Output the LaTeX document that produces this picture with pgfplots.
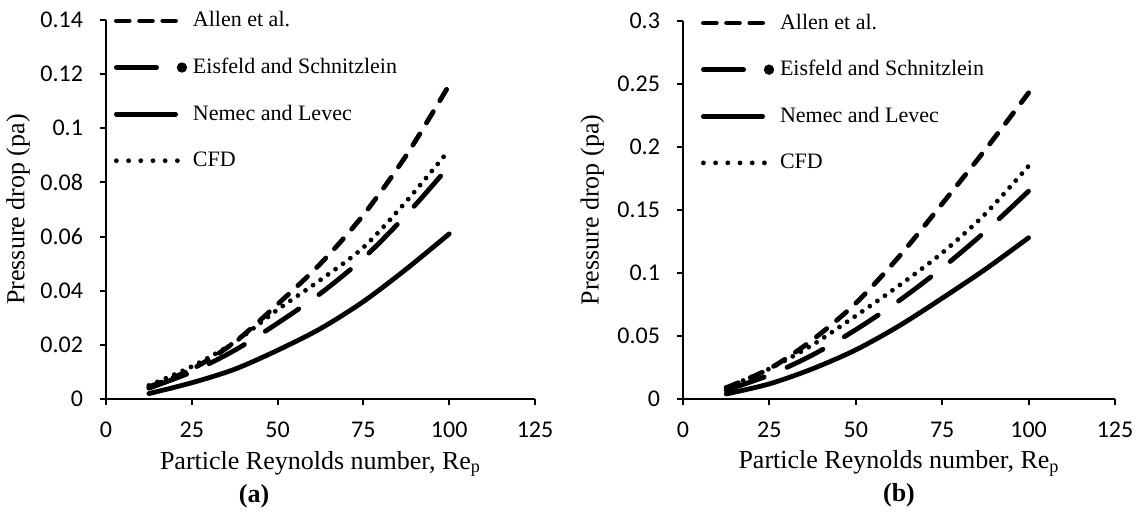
\documentclass[border=0pt]{standalone}
\usepackage{fontspec}
\setmainfont{Liberation Serif}
\newfontfamily\calibri{Carlito}
\usepackage{pgfplots}
\pgfplotsset{compat=1.18}

% line styles of the four correlations
\pgfplotsset{
  allen/.style={line width=2.4pt, line cap=round, dash pattern=on 6.6pt off 6.4pt, smooth,
    legend image code/.code={\draw[line width=2.4pt, line cap=round, dash pattern=on 6.4pt off 5.2pt] (1.2pt,0pt) -- (30.8pt,0pt);}},
  eisfeld/.style={line width=2.4pt, line cap=round, dash pattern=on 20.1pt off 12.4pt, smooth,
    legend image code/.code={\draw[line width=2.4pt, line cap=round] (1.2pt,0pt) -- (21.8pt,0pt); \fill (34pt,0pt) circle (1.3pt);}},
  nemec/.style={line width=2.4pt, line cap=round, smooth,
    legend image code/.code={\draw[line width=2.4pt, line cap=round] (1.2pt,0pt) -- (30.8pt,0pt);}},
  cfd/.style={line width=2.4pt, line cap=round, dash pattern=on 0pt off 4.6pt, smooth,
    legend image code/.code={\draw[line width=2.4pt, line cap=round, dash pattern=on 0pt off 6.1pt] (1.2pt,0pt) -- (31.8pt,0pt);}},
  panel/.style={
    scale only axis, anchor=south west, clip=false,
    xmin=0, xmax=125, ymin=0,
    axis x line*=bottom, axis y line*=left,
    axis line style={line width=1.3pt, black},
    tick align=outside, major tick length=3pt,
    tick style={line width=1pt, black},
    xtick={0,25,50,75,100,125},
    ticklabel style={font=\calibri\fontsize{12}{14}\selectfont, /pgf/number format/assume math mode=true},
    xticklabel style={yshift=-5pt},
    yticklabel style={xshift=-5pt, /pgf/number format/fixed, /pgf/number format/precision=2},
    xlabel={Particle Reynolds number, Re\textsubscript{p}},
    ylabel={Pressure drop (pa)},
    label style={font=\fontsize{13}{15}\selectfont},
    xlabel style={at={(axis description cs:0.5,-0.185)}, anchor=base},
    legend cell align=left,
    legend style={draw=none, fill=none, anchor=north west, inner sep=0pt, outer sep=0pt,
      row sep=13.3pt, column sep=3pt, font=\fontsize{11}{13}\selectfont,
      nodes={inner sep=0pt, text height=8pt, text depth=2pt}},
  },
}

\begin{document}
\begin{tikzpicture}
\useasboundingbox (0,0) rectangle (569.5pt,259pt);

% (a)
\begin{axis}[panel, at={(53pt,59.5pt)}, width=214.5pt, height=189.5pt,
  ymax=0.14, ytick={0,0.02,0.04,0.06,0.08,0.1,0.12,0.14},
  ylabel style={at={(axis description cs:-0.205,0.5)}, anchor=center},
  legend style={at={(0.0186,1.024)}}]
\addplot[allen] coordinates {(12.5,0.0045) (25,0.011) (37.5,0.021) (50,0.035) (62.5,0.050) (75,0.068) (87.5,0.090) (100,0.116)};
\addlegendentry{Allen et al.}
\addplot[eisfeld] coordinates {(12.5,0.004) (25,0.010) (37.5,0.018) (50,0.028) (62.5,0.039) (75,0.052) (87.5,0.068) (100,0.086)};
\addlegendentry{Eisfeld and Schnitzlein}
\addplot[nemec] coordinates {(12.5,0.002) (25,0.006) (37.5,0.011) (50,0.018) (62.5,0.026) (75,0.036) (87.5,0.048) (100,0.061)};
\addlegendentry{Nemec and Levec}
\addplot[cfd] coordinates {(12.5,0.005) (25,0.012) (37.5,0.021) (50,0.033) (62.5,0.044) (75,0.056) (87.5,0.073) (100,0.092)};
\addlegendentry{CFD}
\node[font=\bfseries\fontsize{13}{15}\selectfont, anchor=base] at (rel axis cs:0.345,-0.272) {(a)};
\end{axis}

% (b)
\begin{axis}[panel, at={(341.5pt,59.5pt)}, width=216pt, height=189pt,
  ymax=0.3, ytick={0,0.05,0.1,0.15,0.2,0.25,0.3},
  ylabel style={at={(axis description cs:-0.21,0.5)}, anchor=center},
  legend style={at={(0.0417,1.021)}}]
\addplot[allen] coordinates {(12.5,0.009) (25,0.024) (37.5,0.047) (50,0.076) (62.5,0.113) (75,0.155) (87.5,0.198) (100,0.243)};
\addlegendentry{Allen et al.}
\addplot[eisfeld] coordinates {(12.5,0.007) (25,0.019) (37.5,0.035) (50,0.055) (62.5,0.078) (75,0.104) (87.5,0.133) (100,0.165)};
\addlegendentry{Eisfeld and Schnitzlein}
\addplot[nemec] coordinates {(12.5,0.004) (25,0.012) (37.5,0.024) (50,0.039) (62.5,0.058) (75,0.080) (87.5,0.103) (100,0.128)};
\addlegendentry{Nemec and Levec}
\addplot[cfd] coordinates {(12.5,0.009) (25,0.024) (37.5,0.043) (50,0.066) (62.5,0.090) (75,0.116) (87.5,0.147) (100,0.185)};
\addlegendentry{CFD}
\node[font=\bfseries\fontsize{13}{15}\selectfont, anchor=base] at (rel axis cs:0.50,-0.272) {(b)};
\end{axis}
\end{tikzpicture}
\end{document}
